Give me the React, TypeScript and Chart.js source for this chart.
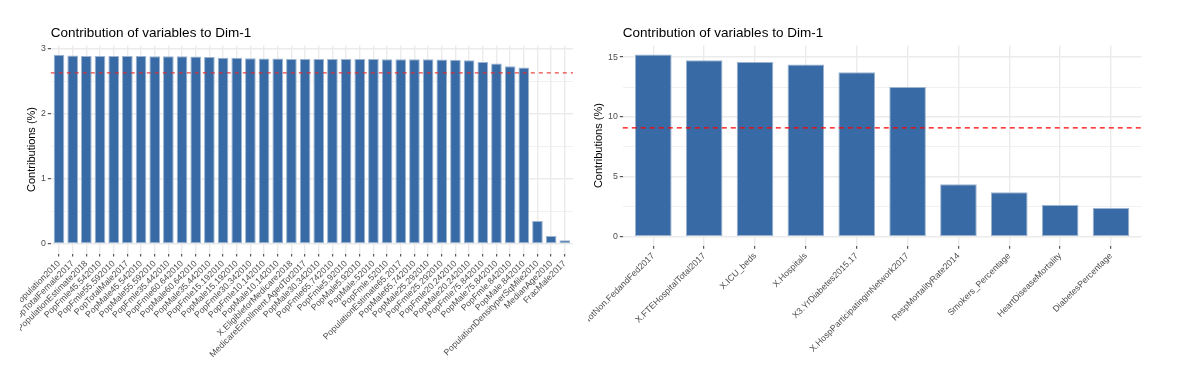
import React, { useEffect, useRef } from 'react';
import { Chart, registerables } from 'chart.js';

Chart.register(...registerables);

const FONT = "'Liberation Sans', Arial, Helvetica, sans-serif";

const chartTitle = 'Contribution of variables to Dim-1';
const yAxisTitle = 'Contributions (%)';

const leftCategories = [
  'CensusPopulation2010', 'PopTotalFemale2017', 'PopulationEstimate2018', 'PopFmle45.542010',
  'PopFmle55.592010', 'PopTotalMale2017', 'PopMale45.542010', 'PopMale55.592010',
  'PopFmle35.442010', 'PopFmle60.642010', 'PopMale60.642010', 'PopMale35.442010',
  'PopFmle15.192010', 'PopMale15.192010', 'PopFmle30.342010', 'PopFmle10.142010',
  'PopMale10.142010', 'X.EligibleforMedicare2018', 'MedicareEnrollment.AgedTot2017', 'PopMale30.342010',
  'PopFmle65.742010', 'PopFmle5.92010', 'PopMale5.92010', 'PopMale.52010',
  'PopFmle.52010', 'PopulationEstimate65.2017', 'PopMale65.742010', 'PopMale25.292010',
  'PopFmle25.292010', 'PopFmle20.242010', 'PopMale20.242010', 'PopFmle75.842010',
  'PopMale75.842010', 'PopFmle.842010', 'PopMale.842010', 'PopulationDensityperSqMile2010',
  'MedianAge2010', 'FracMale2017',
];
const leftValues = [
  2.908, 2.897, 2.892, 2.892, 2.892, 2.892, 2.89, 2.887, 2.887, 2.887,
  2.882, 2.877, 2.862, 2.862, 2.856, 2.851, 2.851, 2.846, 2.846, 2.846,
  2.846, 2.846, 2.846, 2.846, 2.841, 2.841, 2.841, 2.841, 2.836, 2.831,
  2.826, 2.8, 2.774, 2.733, 2.713, 0.354, 0.123, 0.06,
];
const leftReference = 2.632;
const leftMajorTicks = [0, 1, 2, 3];
const leftMinorTicks = [0.5, 1.5, 2.5];

const rightCategories = [
  'TotalM.D..s.TotNon.FedandFed2017', 'X.FTEHospitalTotal2017', 'X.ICU_beds', 'X.Hospitals',
  'X3.YrDiabetes2015.17', 'X.HospParticipatinginNetwork2017', 'RespMortalityRate2014',
  'Smokers_Percentage', 'HeartDiseaseMortality', 'DiabetesPercentage',
];
const rightValues = [15.22, 14.74, 14.6, 14.38, 13.74, 12.51, 4.39, 3.72, 2.65, 2.4];
const rightReference = 9.09;
const rightMajorTicks = [0, 5, 10, 15];
const rightMinorTicks = [2.5, 7.5, 12.5];

type PanelProps = {
  labels: string[];
  values: number[];
  reference: number;
  major: number[];
  minor: number[];
  left: number;
  width: number;
  yAxisWidth: number;
  xAxisHeight: number;
  padRight: number;
  yTitlePadTop: number;
  barPct: number;
  dash: number[];
  lineColor: string;
};

function Panel(p: PanelProps) {
  const ref = useRef<HTMLCanvasElement>(null);
  useEffect(() => {
    if (!ref.current) return;
    const maxV = Math.max(...p.values);
    const n = p.labels.length;
    const isMajor = (v: number) => p.major.indexOf(v) >= 0;
    const refLine = {
      id: 'refLine',
      afterDatasetsDraw(chart: any) {
        const ctx = chart.ctx;
        const y = chart.scales.y.getPixelForValue(p.reference);
        const { left, right } = chart.chartArea;
        ctx.save();
        ctx.strokeStyle = p.lineColor;
        ctx.lineWidth = 1.3;
        ctx.setLineDash(p.dash);
        ctx.beginPath();
        ctx.moveTo(left, y);
        ctx.lineTo(right, y);
        ctx.stroke();
        ctx.restore();
      },
    };
    const chart = new Chart(ref.current, {
      type: 'bar',
      data: {
        datasets: [
          {
            data: p.values.map((v, i) => ({ x: i, y: v })),
            backgroundColor: '#386BA5',
            borderColor: '#9CB4D0',
            borderWidth: 1,
            borderSkipped: false,
            barPercentage: p.barPct,
            categoryPercentage: 1,
          },
        ],
      },
      options: {
        animation: false,
        responsive: false,
        layout: { padding: { left: 0, right: p.padRight, top: 0, bottom: 0 } },
        plugins: {
          legend: { display: false },
          tooltip: { enabled: false },
          title: {
            display: true,
            text: chartTitle,
            align: 'start',
            fullSize: false,
            color: '#000000',
            font: { family: FONT, size: 13.5, weight: 'normal', lineHeight: 1.2 },
            padding: { top: 25.5, bottom: 3.7 },
          },
        },
        scales: {
          x: {
            type: 'linear',
            min: -0.6,
            max: n - 0.4,
            offset: false,
            afterBuildTicks: (s: any) => {
              s.ticks = p.labels.map((_, i) => ({ value: i }));
            },
            afterFit: (s: any) => {
              s.height = p.xAxisHeight;
              s.paddingLeft = 0;
              s.paddingRight = 0;
            },
            grid: {
              offset: false,
              color: '#EBEBEB',
              lineWidth: 1.4,
              tickLength: 3,
              tickColor: '#333333',
              tickWidth: 1,
            },
            border: { display: false },
            ticks: {
              autoSkip: false,
              minRotation: 45,
              maxRotation: 45,
              padding: 2,
              color: '#4D4D4D',
              font: { family: FONT, size: 8.8 },
              callback: (_v: any, i: number) => p.labels[i],
            },
          },
          y: {
            type: 'linear',
            min: -maxV * 0.05,
            max: maxV * 1.05,
            afterBuildTicks: (s: any) => {
              s.ticks = [...p.major, ...p.minor].sort((a, b) => a - b).map((v) => ({ value: v }));
            },
            afterFit: (s: any) => {
              s.width = p.yAxisWidth;
            },
            grid: {
              color: '#EBEBEB',
              lineWidth: (c: any) => (c.tick && isMajor(c.tick.value) ? 1.4 : 0.7),
              tickLength: 3,
              tickColor: (c: any) => (c.tick && isMajor(c.tick.value) ? '#333333' : 'rgba(0,0,0,0)'),
              tickWidth: 1,
            },
            border: { display: false },
            ticks: {
              padding: 2,
              color: '#4D4D4D',
              font: { family: FONT, size: 8.8 },
              callback: (v: any) => (isMajor(v) ? String(v) : ''),
            },
            title: {
              display: true,
              text: yAxisTitle,
              color: '#000000',
              font: { family: FONT, size: 11, lineHeight: 1.2 },
              padding: { top: p.yTitlePadTop, bottom: 0 },
            },
          },
        },
      } as any,
      plugins: [refLine],
    });
    return () => chart.destroy();
  }, []);
  return (
    <canvas
      ref={ref}
      width={p.width}
      height={368}
      style={{ position: 'absolute', left: p.left, top: 0, display: 'block', width: p.width, height: 368 }}
    />
  );
}

export default function App() {
  return (
    <div
      style={{
        position: 'fixed',
        left: 0,
        top: 0,
        width: 1184,
        height: 368,
        background: '#ffffff',
        overflow: 'hidden',
      }}
    >
      <Panel
        labels={leftCategories}
        values={leftValues}
        reference={leftReference}
        major={leftMajorTicks}
        minor={leftMinorTicks}
        left={20}
        width={568}
        yAxisWidth={30.8}
        xAxisHeight={114.5}
        padRight={15}
        yTitlePadTop={5.1}
        barPct={0.78}
        dash={[4, 4]}
        lineColor="rgba(230,40,40,0.85)"
      />
      <Panel
        labels={rightCategories}
        values={rightValues}
        reference={rightReference}
        major={rightMajorTicks}
        minor={rightMinorTicks}
        left={588}
        width={596}
        yAxisWidth={34.8}
        xAxisHeight={122.2}
        padRight={42.5}
        yTitlePadTop={4.4}
        barPct={0.72}
        dash={[5, 4]}
        lineColor="#FF0000"
      />
    </div>
  );
}
